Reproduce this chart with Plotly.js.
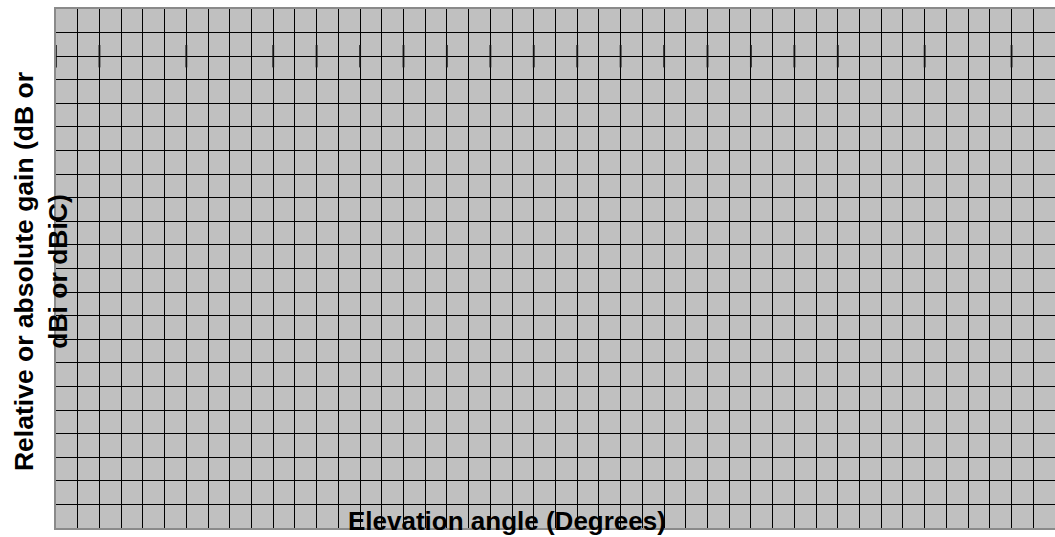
<!DOCTYPE html>
<html>
<head>
<meta charset="utf-8">
<script src="https://cdn.plot.ly/plotly-3.0.1.min.js"></script>
<style>
  html, body { margin: 0; padding: 0; background: #ffffff; }
  #chart { width: 1055px; height: 537px; }
</style>
</head>
<body>
<div id="chart"></div>
<script>
// Axis extents (grid cells)
const xRange = [0, 46];
const yRange = [0, 22];

// Short vertical tick marks seen near the top of the grid
const markX = [0, 2, 6, 10, 12, 14, 16, 18, 20, 22, 24, 26, 28, 30, 32, 34, 36, 40, 44];
const markY = markX.map(() => 20);

// Texts
const xTitle = "Elevation angle (Degrees)";
const yTitleLines = ["Relative or absolute gain (dB or", "dBi or dBiC)"];

const font = "Liberation Sans, Arial, sans-serif";

const traces = [{
  type: "scatter",
  mode: "markers",
  x: markX,
  y: markY,
  cliponaxis: false,
  hoverinfo: "skip",
  marker: {
    symbol: "line-ns",
    size: 16,
    line: { width: 2, color: "rgba(20,20,20,0.8)" }
  },
  showlegend: false
}];

const axisCommon = {
  dtick: 1,
  tick0: 0,
  showgrid: true,
  gridcolor: "#000000",
  gridwidth: 1,
  zeroline: false,
  showticklabels: false,
  ticks: "",
  showline: true,
  mirror: true,
  linecolor: "#8a8a8a",
  linewidth: 2,
  fixedrange: true
};

const layout = {
  width: 1055,
  height: 537,
  margin: { l: 56, r: 0, t: 9, b: 9 },
  paper_bgcolor: "#ffffff",
  plot_bgcolor: "#c0c0c0",
  font: { family: font, color: "#000000" },
  xaxis: Object.assign({}, axisCommon, { range: xRange }),
  yaxis: Object.assign({}, axisCommon, { range: yRange }),
  annotations: [
    {
      xref: "paper", yref: "paper",
      x: 0.4515, y: 0,
      xanchor: "center", yanchor: "bottom",
      yshift: -9,
      showarrow: false,
      borderpad: 0,
      text: "<b>" + xTitle + "</b>",
      font: { family: font, size: 26, color: "#000000" }
    },
    {
      xref: "paper", yref: "paper",
      x: -0.0155, y: 0.5,
      xanchor: "center", yanchor: "middle",
      yshift: -3,
      textangle: -90,
      showarrow: false,
      borderpad: 0,
      align: "center",
      text: "<b>" + yTitleLines.join("<br>") + "</b>",
      font: { family: font, size: 26.5, color: "#000000" }
    }
  ]
};

Plotly.newPlot("chart", traces, layout, { displayModeBar: false, staticPlot: true });
</script>
</body>
</html>
